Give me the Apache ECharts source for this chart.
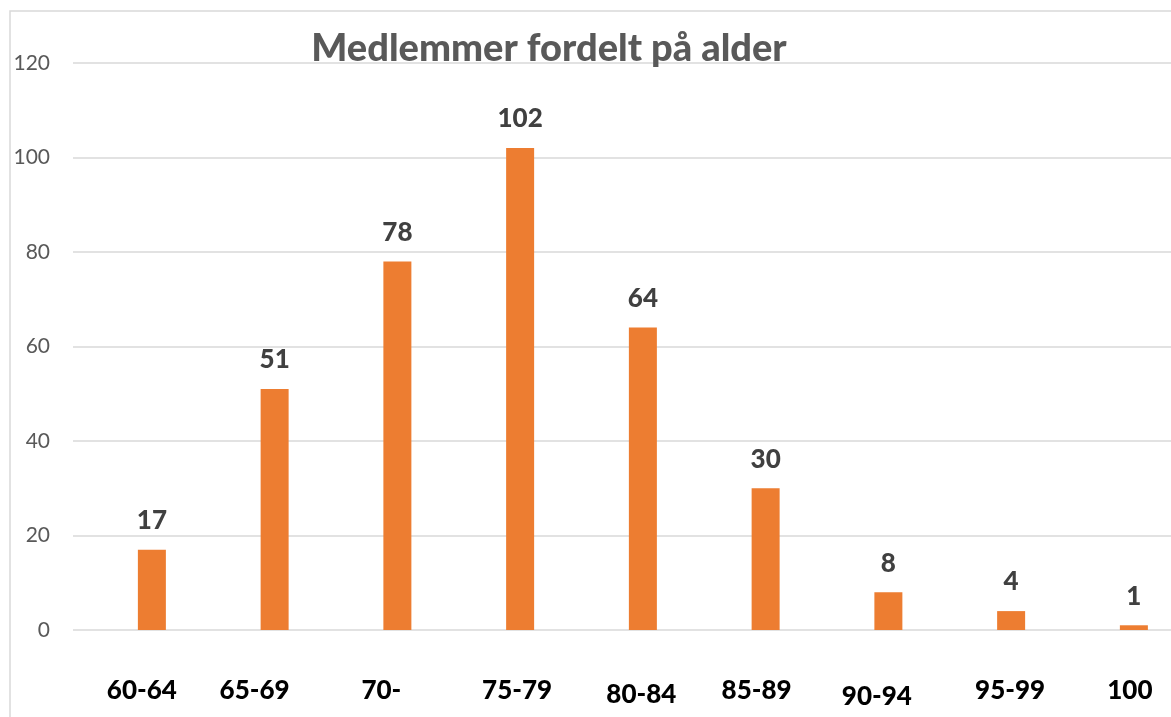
<!DOCTYPE html>
<html>
<head>
<meta charset="utf-8">
<script src="https://cdn.jsdelivr.net/npm/echarts@6/dist/echarts.min.js"></script>
<style>
  html, body { margin: 0; padding: 0; background: #fff; }
  #chart { width: 1171px; height: 717px; }
</style>
</head>
<body>
<div id="chart"></div>
<script>
const ageGroups = ['60-64', '65-69', '70-', '75-79', '80-84', '85-89', '90-94', '95-99', '100']
const members = [17, 51, 78, 102, 64, 30, 8, 4, 1]
const yTicks = [0, 20, 40, 60, 80, 100, 120]

// small nudges so the category labels sit like in the original
const labelDx = [-10, -20, -16, -3, -1.5, -9, -11.5, -1, -4]
const labelDy = [-1, -5, 0, -1, 2, 0, 3, -1, -6]

const chart = echarts.init(document.getElementById('chart'))

const catData = ageGroups.map((name, i) => {
  const dx = labelDx[i]
  const dy = labelDy[i]
  return {
    value: name,
    textStyle: {
      padding: [dy > 0 ? dy * 2 : 0, dx < 0 ? -dx * 2 : 0, dy < 0 ? -dy * 2 : 0, dx > 0 ? dx * 2 : 0],
    },
  }
})

chart.setOption({
  backgroundColor: '#ffffff',
  animation: false,
  title: {
    text: 'Medlemmer fordelt på alder',
    left: 544,
    top: 25,
    textAlign: 'center',
    textStyle: {
      fontFamily: 'Lato',
      fontWeight: 900,
      fontSize: 38,
      color: '#595959',
    },
  },
  graphic: [{
    type: 'rect',
    silent: true,
    z: -1,
    shape: {x: 10, y: 11, width: 1400, height: 900},
    style: {fill: 'none', stroke: '#d9d9d9', lineWidth: 1.5},
  }],
  grid: [{
    left: 73,
    right: -10,
    top: 63,
    bottom: 87,
    outerBoundsMode: 'none',
  }, {
    left: 90.5,
    width: 1104.75,
    top: 63,
    bottom: 87,
    outerBoundsMode: 'none',
  }],
  xAxis: [{
    gridIndex: 0,
    type: 'category',
    data: ageGroups,
    show: false,
  }, {
    gridIndex: 1,
    type: 'category',
    data: catData,
    axisLine: {show: false},
    axisTick: {show: false},
    axisLabel: {
      interval: 0,
      margin: 48,
      verticalAlign: 'middle',
      fontFamily: 'Lato',
      fontWeight: 900,
      fontSize: 26,
      color: '#000000',
    },
  }],
  yAxis: [{
    gridIndex: 0,
    type: 'value',
    min: yTicks[0],
    max: yTicks[yTicks.length - 1],
    interval: yTicks[1] - yTicks[0],
    axisLine: {show: false},
    axisTick: {show: false},
    axisLabel: {
      margin: 23,
      fontFamily: 'Lato',
      fontSize: 21,
      color: '#595959',
    },
    splitLine: {
      lineStyle: {color: '#d9d9d9', width: 1.5},
    },
  }, {
    gridIndex: 1,
    type: 'value',
    min: yTicks[0],
    max: yTicks[yTicks.length - 1],
    interval: yTicks[1] - yTicks[0],
    show: false,
    splitLine: {show: false},
  }],
  series: [{
    type: 'bar',
    xAxisIndex: 1,
    yAxisIndex: 1,
    data: members,
    barWidth: 28,
    itemStyle: {color: '#ED7D31'},
    label: {
      show: true,
      position: 'top',
      distance: 16,
      fontFamily: 'Lato',
      fontWeight: 900,
      fontSize: 26,
      color: '#404040',
    },
  }],
})
</script>
</body>
</html>
